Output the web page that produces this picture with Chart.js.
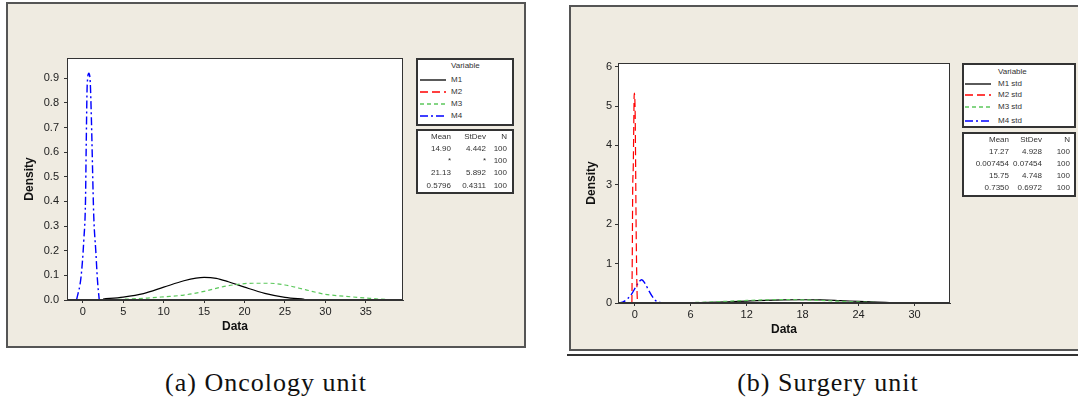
<!DOCTYPE html>
<html>
<head>
<meta charset="utf-8">
<script src="https://cdn.jsdelivr.net/npm/chart.js@4.4.1/dist/chart.umd.min.js"></script>
<style>
body { margin: 0; background: #fff; width: 1078px; height: 404px; position: relative; overflow: hidden; font-family: "Liberation Sans", Arial, sans-serif; }
.frame { position: absolute; background: #efebe1; border: 2px solid #555; box-sizing: border-box; }
.box { position: absolute; background: #fff; border: 2px solid #333; box-sizing: border-box; }
.t { position: absolute; font-size: 8px; line-height: 10px; color: #333; white-space: nowrap; }
.r { text-align: right; width: 60px; }
canvas { position: absolute; }
.cap { position: absolute; width: 320px; text-align: center; font-family: "Liberation Serif", serif; font-size: 26px; line-height: 26px; letter-spacing: 1px; color: #111; }
</style>
</head>
<body>
<div class="frame" style="left:6px;top:2px;width:520px;height:346px"></div>
<div class="frame" style="left:569px;top:5px;width:530px;height:346px"></div>
<div style="position:absolute;left:567px;top:354px;width:520px;height:2px;background:#333"></div>
<canvas id="onc" width="400" height="300" style="left:10px;top:40px"></canvas>
<canvas id="sur" width="400" height="300" style="left:560px;top:40px"></canvas>
<div class="cap" style="left:106px;top:370px">(a) Oncology unit</div>
<div class="cap" style="left:668px;top:370px">(b) Surgery unit</div>
<script>
// names, styles, stats
const oncNames = ["M1", "M2", "M3", "M4"];
const surNames = ["M1 std", "M2 std", "M3 std", "M4 std"];
const lineColors = ["#000000", "#ff0000", "#5cc85c", "#0000ff"];
const lineDash = [[], [8, 4], [4, 3], [8, 3, 2, 3]];
const statHead = ["Mean", "StDev", "N"];
const oncStats = [["14.90", "4.442", "100"], ["*", "*", "100"], ["21.13", "5.892", "100"], ["0.5796", "0.4311", "100"]];
const surStats = [["17.27", "4.928", "100"], ["0.007454", "0.07454", "100"], ["15.75", "4.748", "100"], ["0.7350", "0.6972", "100"]];

// tick labels
const oncXTicks = [0, 5, 10, 15, 20, 25, 30, 35];
const oncYTicks = [0, 0.1, 0.2, 0.3, 0.4, 0.5, 0.6, 0.7, 0.8, 0.9];
const surXTicks = [0, 6, 12, 18, 24, 30];
const surYTicks = [0, 1, 2, 3, 4, 5, 6];

// density curves, [x, density]
const oncM1 = [[2.5, 0.004], [5, 0.012], [7.5, 0.026], [10, 0.052], [12.5, 0.078], [14, 0.089], [15, 0.092], [16.5, 0.088], [18, 0.074], [20, 0.052], [22.5, 0.027], [25, 0.011], [27.4, 0.003]];
const oncM2 = [];
const oncM3 = [[0, 0], [5, 0.003], [8, 0.008], [10, 0.013], [12.5, 0.02], [15, 0.035], [17.5, 0.055], [19, 0.063], [21, 0.068], [23, 0.068], [25, 0.061], [27.5, 0.042], [30, 0.023], [32.5, 0.015], [35, 0.008], [37.5, 0.002], [39.6, 0]];
const oncM4 = [[-0.78, 0], [-0.22, 0.095], [0.12, 0.244], [0.33, 0.406], [0.41, 0.61], [0.54, 0.873], [0.75, 0.92], [0.92, 0.88], [1.05, 0.744], [1.35, 0.34], [1.6, 0.2], [1.81, 0.08], [2.03, 0]];

const surM1 = [[3, 0], [6, 0.005], [8, 0.015], [10, 0.03], [12, 0.05], [14, 0.068], [16, 0.078], [18, 0.082], [20, 0.08], [22, 0.062], [24, 0.04], [26, 0.022], [27.3, 0.012]];
const surM2 = [[-0.3, 0], [-0.25, 1.5], [-0.22, 2.78], [-0.15, 3.5], [-0.1, 4.5], [-0.05, 5.33], [0.05, 4.8], [0.1, 3.5], [0.15, 2.0], [0.2, 1.0], [0.25, 0.3], [0.3, 0]];
const surM3 = [[2, 0], [4, 0.004], [6, 0.012], [8, 0.025], [10, 0.045], [12, 0.065], [14, 0.08], [16, 0.084], [18, 0.08], [20, 0.065], [22, 0.045], [24, 0.027], [26, 0.013], [28, 0.005], [30, 0.002], [33.8, 0]];
const surM4 = [[-1.79, 0], [-1.3, 0.02], [-0.8, 0.1], [-0.3, 0.24], [0.1, 0.4], [0.5, 0.55], [0.75, 0.59], [1.1, 0.5], [1.5, 0.32], [1.9, 0.16], [2.3, 0.05], [2.8, 0.01], [3.2, 0], [33.8, 0]];

const plotBox = {
    id: "plotBox",
    beforeDraw(chart) {
        const a = chart.chartArea, c = chart.ctx;
        c.save();
        c.fillStyle = "#fff";
        c.fillRect(a.left, a.top, a.right - a.left, a.bottom - a.top);
        c.restore();
    },
    afterDraw(chart) {
        const a = chart.chartArea, c = chart.ctx;
        c.save();
        c.strokeStyle = "#333";
        c.lineWidth = 1;
        c.strokeRect(a.left + 0.5, a.top + 0.5, a.right - a.left - 1, a.bottom - a.top - 1);
        c.restore();
    }
};

const tickFont = { family: "Liberation Sans", size: 11 };
const titleFont = { family: "Liberation Sans", size: 12, weight: "bold" };

function makeChart(id, o) {
    const datasets = [];
    // red first so it is drawn on top
    [1, 3, 2, 0].forEach(i => {
        if (!o.series[i].length) return;
        datasets.push({
            label: o.names[i],
            data: o.series[i].map(([x, y]) => ({ x, y })),
            borderColor: lineColors[i],
            borderDash: lineDash[i],
            borderWidth: i === 3 ? 1.4 : 1.2,
            pointRadius: 0,
            fill: false,
            cubicInterpolationMode: "monotone"
        });
    });
    return new Chart(document.getElementById(id), {
        type: "line",
        data: { datasets },
        options: {
            responsive: false,
            animation: false,
            devicePixelRatio: 1,
            layout: { padding: { top: o.padTop, right: o.padRight, left: 0, bottom: 0 } },
            plugins: { legend: { display: false }, tooltip: { enabled: false } },
            scales: {
                x: {
                    type: "linear",
                    min: o.xMin,
                    max: o.xMax,
                    afterBuildTicks: s => { s.ticks = o.xTicks.map(v => ({ value: v })); },
                    afterFit: s => { s.height = o.xAxisH; },
                    grid: { drawOnChartArea: false, drawTicks: true, tickLength: 3, color: "#333" },
                    border: { color: "#333" },
                    ticks: { autoSkip: false, maxRotation: 0, padding: 2, color: "#222", font: tickFont },
                    title: { display: true, text: "Data", color: "#111", font: titleFont, padding: { top: 0, bottom: o.xTitlePad } }
                },
                y: {
                    min: 0,
                    max: o.yMax,
                    afterBuildTicks: s => { s.ticks = o.yTicks.map(v => ({ value: v })); },
                    afterFit: s => { s.width = o.yAxisW; },
                    grid: { drawOnChartArea: false, drawTicks: true, tickLength: 3, color: "#333" },
                    border: { color: "#333" },
                    ticks: { autoSkip: false, padding: o.yTickPad, color: "#222", font: tickFont, callback: o.yFmt },
                    title: { display: true, text: "Density", color: "#111", font: titleFont, padding: { top: o.yTitlePad, bottom: 0 } }
                }
            }
        },
        plugins: [plotBox]
    });
}

makeChart("onc", {
    names: oncNames, series: [oncM1, oncM2, oncM3, oncM4],
    xMin: -1.96, xMax: 39.6, yMax: 0.982,
    xTicks: oncXTicks, yTicks: oncYTicks, yFmt: v => v.toFixed(1),
    padTop: 18, padRight: 7, xAxisH: 40, yAxisW: 57,
    xTitlePad: 6, yTitlePad: 12, yTickPad: 5
});

makeChart("sur", {
    names: surNames, series: [surM1, surM2, surM3, surM4],
    xMin: -1.79, xMax: 33.8, yMax: 6.094,
    xTicks: surXTicks, yTicks: surYTicks, yFmt: v => String(v),
    padTop: 23, padRight: 10, xAxisH: 37, yAxisW: 58,
    xTitlePad: 3, yTitlePad: 24, yTickPad: 3
});

// legend + stats boxes
function add(parent, cls, css, txt) {
    const d = document.createElement("div");
    d.className = cls;
    Object.assign(d.style, css);
    if (txt !== undefined) d.textContent = txt;
    parent.appendChild(d);
    return d;
}

function legend(L) {
    const box = add(document.body, "box", { left: L.x + "px", top: L.y + "px", width: L.w + "px", height: L.h + "px" });
    add(box, "t", { left: (L.textX - 2) + "px", top: (L.titleY - 7) + "px" }, "Variable");
    L.names.forEach((n, i) => {
        const cy = L.rowY[i];
        const w = L.lineX2 - L.lineX1;
        const svg = `<svg width="${w}" height="4" style="position:absolute;left:${L.lineX1 - 2}px;top:${cy - 4}px">` +
            `<line x1="0" y1="2" x2="${w}" y2="2" stroke="${lineColors[i]}" stroke-width="1.3" stroke-dasharray="${lineDash[i].join(",") || "none"}"/></svg>`;
        box.insertAdjacentHTML("beforeend", svg);
        add(box, "t", { left: (L.textX - 2) + "px", top: (cy - 7) + "px" }, n);
    });
    const sb = add(document.body, "box", { left: L.x + "px", top: L.sy + "px", width: L.w + "px", height: L.sh + "px" });
    const rows = [statHead].concat(L.stats);
    rows.forEach((row, r) => {
        row.forEach((v, c) => {
            add(sb, "t r", { left: (L.cols[c] - 62) + "px", top: (L.statY[r] - 7) + "px" }, v);
        });
    });
}

legend({
    names: oncNames, stats: oncStats,
    x: 416, y: 58, w: 98, h: 68, textX: 35, titleY: 8, rowY: [21.5, 33.7, 45.5, 58],
    lineX1: 4, lineX2: 30,
    sy: 129, sh: 65, statY: [8, 20, 31.5, 44, 57], cols: [35, 70, 91]
});

legend({
    names: surNames, stats: surStats,
    x: 962, y: 63, w: 114, h: 65, textX: 36, titleY: 8.7, rowY: [21, 32, 43.7, 57.7],
    lineX1: 3, lineX2: 29,
    sy: 132, sh: 65, statY: [8, 19.7, 32, 44, 56.3], cols: [47, 80, 108]
});
</script>
</body>
</html>
